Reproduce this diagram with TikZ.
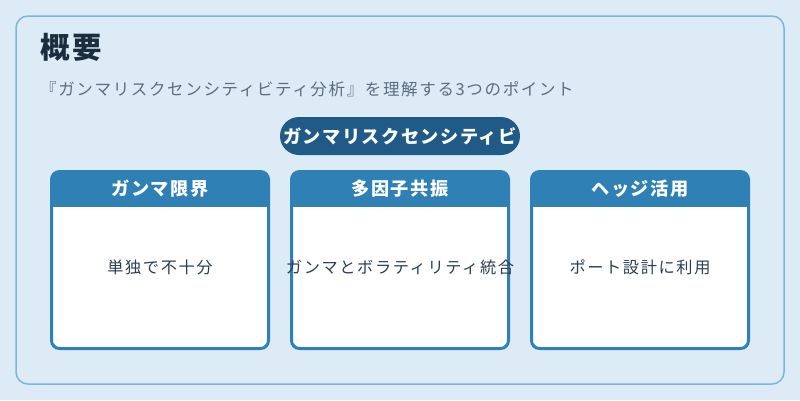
\documentclass[tikz,border=0pt]{standalone}
\usepackage{fontspec}
\newfontfamily\jp{Noto Sans CJK JP}[LetterSpace=10]
\newfontfamily\jph{Noto Sans CJK JP}[LetterSpace=8]
\definecolor{bg}{HTML}{DCEBF6}
\definecolor{outerline}{HTML}{7FB5D8}
\definecolor{cardblue}{HTML}{2E80B5}
\definecolor{pillblue}{HTML}{1F5B86}
\definecolor{titlecol}{HTML}{1C2E3E}
\definecolor{subcol}{HTML}{5D6D7E}
\definecolor{bodycol}{HTML}{2C3E50}
\tikzset{
  titletext/.style={anchor=west, inner sep=0pt, text=titlecol, font=\jp\bfseries\fontsize{29.5}{34}\selectfont},
  subtext/.style={anchor=west, inner sep=0pt, text=subcol, font=\jp\fontsize{16.5}{20}\selectfont},
  pillnode/.style={fill=pillblue, text=white, rounded corners=19pt, minimum width=240pt, minimum height=38pt, inner sep=0pt, font=\jph\bfseries\fontsize{18.2}{22}\selectfont},
  headtext/.style={text=white, inner sep=0pt, font=\jph\bfseries\fontsize{18.2}{22}\selectfont},
  bodytext/.style={text=bodycol, inner sep=0pt, font=\jp\fontsize{16.2}{20}\selectfont},
}
\begin{document}
\begin{tikzpicture}[x=1pt,y=-1pt]
\useasboundingbox (0,0) rectangle (800,400);
\fill[bg] (0,0) rectangle (800,400);
\draw[outerline, line width=1.5pt, fill=bg, rounded corners=12pt] (16,16) rectangle (784,384);
\node[titletext] (title) at (40,47) {概要};
\node[subtext] (sub) at (40,89) {『ガンマリスクセンシティビティ分析』を理解する3つのポイント};
\node[pillnode] (pill) at (400,136) {ガンマリスクセンシティビ};
\foreach \x/\h/\b/\n in {50/ガンマ限界/単独で不十分/a, 290/多因子共振/ガンマとボラティリティ統合/b, 530/ヘッジ活用/ポート設計に利用/c}{
  \begin{scope}
    \clip[rounded corners=8pt] (\x+1.5,171.5) rectangle ++(217,177);
    \fill[white] (\x,170) rectangle ++(220,180);
    \fill[cardblue] (\x,170) rectangle ++(220,37);
  \end{scope}
  \draw[cardblue, line width=3pt, rounded corners=8pt] (\x+1.5,171.5) rectangle ++(217,177);
  \node[headtext] (h\n) at (\x+110,188.5) {\h};
  \node[bodytext] (b\n) at (\x+110,267) {\b};
}
\end{tikzpicture}
\end{document}
